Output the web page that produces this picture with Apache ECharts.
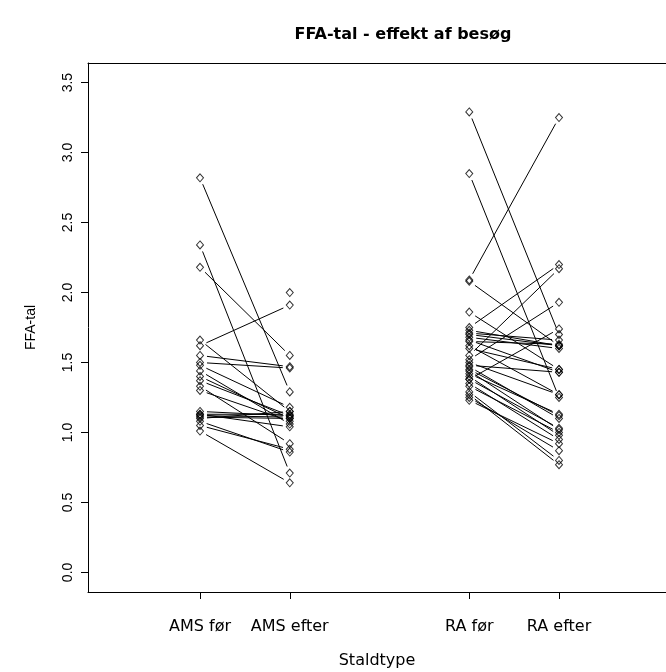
<!DOCTYPE html>
<html>
<head>
<meta charset="utf-8">
<script src="https://cdn.jsdelivr.net/npm/echarts@6/dist/echarts.min.js"></script>
<style>html,body{margin:0;padding:0;background:#fff}#c{width:666px;height:672px}</style>
</head>
<body>
<div id="c"></div>
<script>
const categories = ['AMS før', 'AMS efter', 'RA før', 'RA efter'];
const catPos = [1, 2, 4, 5];
const yTicks = [0, 0.5, 1, 1.5, 2, 2.5, 3, 3.5];

// paired values (before, after); null = missing
const amsBefore = [2.82, 2.34, 2.18, 1.62, 1.66, 1.55, 1.50, 1.48, 1.44, 1.40, 1.37, 1.33, 1.30, 1.15, 1.13, 1.12, 1.11, 1.10, 1.08, 1.05, 1.01, null, 1.13];
const amsAfter  = [1.29, 0.71, 1.55, 1.91, 1.15, 1.47, 1.46, 1.18, 1.06, 1.10, 1.12, 0.92, 1.08, 1.12, 1.13, 1.11, 1.10, 1.15, 0.86, 0.88, 0.64, 2.00, 1.04];
const raBefore  = [3.29, 2.85, 2.09, 2.08, 1.86, 1.75, 1.73, 1.71, 1.68, 1.65, 1.62, 1.55, 1.52, 1.48, 1.45, 1.42, 1.38, 1.33, 1.29, 1.27, 1.38, 1.40, 1.25, 1.23, 1.60, 1.47, 1.44, 1.35, 1.50, 1.66, 1.70];
const raAfter   = [1.70, 1.25, 3.25, 1.62, 1.45, 2.20, 1.62, 1.66, 1.60, 1.63, 1.27, 2.17, 1.93, 1.43, 1.12, 1.13, 1.03, 1.00, 0.80, 0.77, 1.74, 0.98, 0.87, 0.92, 1.45, 1.10, 1.02, 0.95, 1.27, 1.43, 1.62];

const groups = [
  { before: amsBefore, after: amsAfter, x0: catPos[0], x1: catPos[1] },
  { before: raBefore, after: raAfter, x0: catPos[2], x1: catPos[3] }
];
const segs = [], pts = [];
groups.forEach(g => {
  g.before.forEach((b, i) => {
    const a = g.after[i];
    if (b != null) pts.push([g.x0, b]);
    if (a != null) pts.push([g.x1, a]);
    if (b != null && a != null) segs.push([g.x0, b, g.x1, a]);
  });
});

const font = 'Liberation Sans, Arial, sans-serif';
const wide = 'DejaVu Sans, Verdana, sans-serif';
const xMin = -0.248, xMax = 6.192;
const chart = echarts.init(document.getElementById('c'), null, { renderer: 'canvas' });
chart.setOption({
  animation: false,
  backgroundColor: '#fff',
  title: {
    text: 'FFA-tal - effekt af besøg',
    left: 398, top: 22, textAlign: 'center',
    textStyle: { fontFamily: wide, fontSize: 16, fontWeight: 'bold', color: '#000' }
  },
  grid: { left: 88, right: 0, top: 63, bottom: 80, show: false, outerBoundsMode: 'none', containLabel: false },
  xAxis: [{
    type: 'value', min: xMin, max: xMax, position: 'bottom',
    name: 'Staldtype', nameLocation: 'middle', nameGap: 61,
    nameTextStyle: { fontFamily: wide, fontSize: 16, color: '#000' },
    axisLine: { show: true, onZero: false, lineStyle: { color: '#000', width: 1 } },
    axisTick: { show: true, length: 7, lineStyle: { color: '#000' }, customValues: catPos },
    axisLabel: {
      show: true, customValues: catPos, margin: 27,
      fontFamily: wide, fontSize: 16, color: '#000',
      formatter: v => categories[catPos.indexOf(Math.round(v))] || ''
    },
    splitLine: { show: false }
  }, {
    type: 'value', min: xMin, max: xMax, position: 'top',
    axisLine: { show: true, onZero: false, lineStyle: { color: '#000', width: 1 } },
    axisTick: { show: false }, axisLabel: { show: false }, splitLine: { show: false }
  }],
  yAxis: {
    type: 'value', min: -0.14, max: 3.64,
    name: 'FFA-tal', nameLocation: 'middle', nameGap: 50,
    nameTextStyle: { fontFamily: font, fontSize: 14, color: '#000' },
    axisLine: { show: true, onZero: false, lineStyle: { color: '#000', width: 1 } },
    axisTick: { show: true, length: 7, lineStyle: { color: '#000' }, customValues: yTicks },
    axisLabel: {
      show: true, customValues: yTicks, rotate: 90, margin: 13,
      fontFamily: font, fontSize: 14, color: '#000',
      formatter: v => v.toFixed(1)
    },
    splitLine: { show: false }
  },
  series: [
    {
      type: 'custom',
      data: segs,
      encode: { x: [0, 2], y: [1, 3] },
      renderItem: (params, api) => {
        const a = api.coord([api.value(0), api.value(1)]);
        const b = api.coord([api.value(2), api.value(3)]);
        const dx = b[0] - a[0], dy = b[1] - a[1];
        const L = Math.hypot(dx, dy), g = 7;
        if (L <= 2 * g) return null;
        const ux = dx / L, uy = dy / L;
        return {
          type: 'line',
          shape: { x1: a[0] + ux * g, y1: a[1] + uy * g, x2: b[0] - ux * g, y2: b[1] - uy * g },
          style: { stroke: '#000', lineWidth: 1 }
        };
      },
      silent: true
    },
    {
      type: 'scatter',
      data: pts,
      symbol: 'diamond',
      symbolSize: [7, 8],
      itemStyle: { color: 'rgba(0,0,0,0)', borderColor: '#000', borderWidth: 1 },
      silent: true
    }
  ]
});
</script>
</body>
</html>
